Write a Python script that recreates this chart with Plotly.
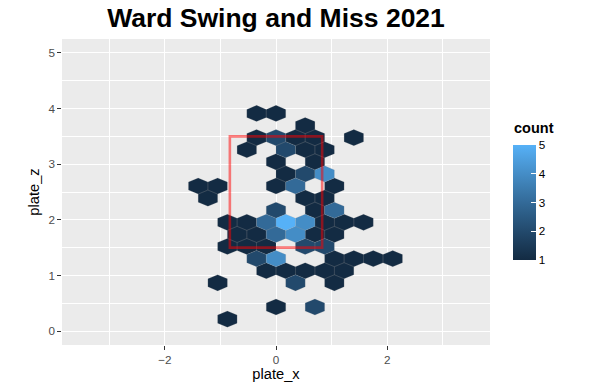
import plotly.graph_objects as go
import numpy as np

# ---- data (hex bin centres) ----
hex_x = [-0.35, 0.0,
         0.525,
         -0.35, 0.0, 0.35, 0.70, 1.40,
         -0.525, 0.175, 0.525, 0.875,
         0.0, 0.70,
         0.175, 0.525, 0.875,
         -1.40, -1.05, 0.0, 0.35, 1.05,
         -1.225, 0.525, 0.875,
         0.0, 0.70, 1.05,
         -0.875, -0.525, -0.175, 0.175, 0.525, 0.875, 1.225, 1.575,
         -0.70, -0.35, 0.0, 0.35, 0.70, 1.05,
         -0.875, -0.525, -0.175, 0.525, 0.875,
         -0.35, 0.0, 1.05, 1.40, 1.75, 2.10,
         -0.175, 0.175, 0.525, 0.875, 1.225,
         -1.05, 0.35, 1.05,
         0.0, 0.70,
         -0.875]
hex_y = [3.9125, 3.9125,
         3.695,
         3.4775, 3.4775, 3.4775, 3.4775, 3.4775,
         3.26, 3.26, 3.26, 3.26,
         3.0425, 3.0425,
         2.825, 2.825, 2.825,
         2.6075, 2.6075, 2.6075, 2.6075, 2.6075,
         2.39, 2.39, 2.39,
         2.1725, 2.1725, 2.1725,
         1.955, 1.955, 1.955, 1.955, 1.955, 1.955, 1.955, 1.955,
         1.7375, 1.7375, 1.7375, 1.7375, 1.7375, 1.7375,
         1.52, 1.52, 1.52, 1.52, 1.52,
         1.3025, 1.3025, 1.3025, 1.3025, 1.3025, 1.3025,
         1.085, 1.085, 1.085, 1.085, 1.085,
         0.8675, 0.8675, 0.8675,
         0.4325, 0.4325,
         0.215]
hex_count = [1, 1,
             1,
             1, 2, 1, 1, 1,
             1, 2, 1, 1,
             1, 1,
             1, 2, 4,
             1, 1, 1, 3, 1,
             1, 1, 1,
             2, 1, 3,
             1, 1, 3, 5, 4, 1, 1, 1,
             1, 1, 3, 4, 1, 1,
             1, 1, 1, 2, 2,
             2, 4, 1, 1, 1, 1,
             1, 1, 1, 1, 1,
             1, 2, 1,
             1, 2,
             1]

zone_x = [-0.83, 0.83]
zone_z = [1.5, 3.5]

x_ticks = [-2, 0, 2]
y_ticks = [0, 1, 2, 3, 4, 5]
count_ticks = [1, 2, 3, 4, 5]

# ---- ggplot-like Lab gradient #132B43 -> #56B1F7 ----
def hex2rgb(h):
    h = h.lstrip('#')
    return [int(h[i:i + 2], 16) / 255 for i in (0, 2, 4)]

def srgb2lin(c):
    return c / 12.92 if c <= 0.04045 else ((c + 0.055) / 1.055) ** 2.4

def lin2srgb(c):
    c = max(0.0, min(1.0, c))
    return 12.92 * c if c <= 0.0031308 else 1.055 * c ** (1 / 2.4) - 0.055

WP = (0.95047, 1.0, 1.08883)

def rgb2lab(rgb):
    r, g, b = [srgb2lin(c) for c in rgb]
    X = 0.4124 * r + 0.3576 * g + 0.1805 * b
    Y = 0.2126 * r + 0.7152 * g + 0.0722 * b
    Z = 0.0193 * r + 0.1192 * g + 0.9505 * b
    def f(t):
        return t ** (1 / 3) if t > (6 / 29) ** 3 else t / (3 * (6 / 29) ** 2) + 4 / 29
    fx, fy, fz = f(X / WP[0]), f(Y / WP[1]), f(Z / WP[2])
    return (116 * fy - 16, 500 * (fx - fy), 200 * (fy - fz))

def lab2rgb(lab):
    L, a, b = lab
    fy = (L + 16) / 116
    fx = fy + a / 500
    fz = fy - b / 200
    def finv(t):
        return t ** 3 if t > 6 / 29 else 3 * (6 / 29) ** 2 * (t - 4 / 29)
    X, Y, Z = WP[0] * finv(fx), WP[1] * finv(fy), WP[2] * finv(fz)
    r = 3.2406 * X - 1.5372 * Y - 0.4986 * Z
    g = -0.9689 * X + 1.8758 * Y + 0.0415 * Z
    bb = 0.0557 * X - 0.2040 * Y + 1.0570 * Z
    return [round(lin2srgb(c) * 255) for c in (r, g, bb)]

LOW, HIGH = rgb2lab(hex2rgb('#132B43')), rgb2lab(hex2rgb('#56B1F7'))

def grad(t):
    lab = [LOW[i] + (HIGH[i] - LOW[i]) * t for i in range(3)]
    r, g, b = lab2rgb(lab)
    return f'rgb({r},{g},{b})'

cmin, cmax = 1, 5
colorscale = [[t, grad(t)] for t in np.linspace(0, 1, 11)]

# ---- hexagon geometry (size of bins, not data) ----
HW = 0.175     # half width
HT = 0.145     # half height (vertex)
HS = 0.0725    # half height of vertical side

fig = go.Figure()

for c in sorted(set(hex_count)):
    xs, ys = [], []
    for x, y, n in zip(hex_x, hex_y, hex_count):
        if n != c:
            continue
        xs += [x, x + HW, x + HW, x, x - HW, x - HW, x, None]
        ys += [y + HT, y + HS, y - HS, y - HT, y - HS, y + HS, y + HT, None]
    col = grad((c - cmin) / (cmax - cmin))
    fig.add_trace(go.Scatter(
        x=xs, y=ys, mode='lines', fill='toself', fillcolor=col,
        line=dict(color='rgba(150,150,150,0.35)', width=0.5),
        hoverinfo='skip', showlegend=False))

# colourbar geometry in pixels
M_L, M_R, M_T, M_B = 62, 101, 39, 43
PW, PH = 591 - M_L - M_R, 388 - M_T - M_B
BAR_X0 = 512.7
BAR_W = 23
BAR_TOP, BAR_BOT = 145, 260

def px2py(py):
    return (388 - M_B - py) / PH

def px2px(px):
    return (px - M_L) / PW

fig.add_trace(go.Scatter(
    x=[None], y=[None], mode='markers', showlegend=False, hoverinfo='skip',
    marker=dict(color=[cmin, cmax], cmin=cmin, cmax=cmax, colorscale=colorscale,
                showscale=True,
                colorbar=dict(
                    x=px2px(BAR_X0), xanchor='left', xpad=0,
                    y=px2py(BAR_BOT), yanchor='bottom', ypad=0,
                    thickness=BAR_W, len=BAR_BOT - BAR_TOP, lenmode='pixels',
                    outlinewidth=0,
                    tickvals=count_ticks, tickprefix='\u2002',
                    ticks='inside', ticklen=4.6, tickcolor='white', tickwidth=1,
                    tickfont=dict(size=11.7, color='black')))))

# legend title
fig.add_annotation(text='<b>count</b>', xref='paper', yref='paper',
                   x=px2px(BAR_X0 - 1), y=px2py(138), xanchor='left', yanchor='bottom',
                   showarrow=False, font=dict(size=14.5, color='black'))

# white tick marks on the left edge of the colour bar (as ggplot draws them)
for v in count_ticks[1:-1]:
    py = BAR_BOT - (v - cmin) / (cmax - cmin) * (BAR_BOT - BAR_TOP)
    fig.add_shape(type='line', xref='paper', yref='paper',
                  x0=px2px(BAR_X0), x1=px2px(BAR_X0 + 4.6),
                  y0=px2py(py), y1=px2py(py), line=dict(color='white', width=1),
                  layer='above')

fig.add_shape(type='rect', x0=zone_x[0], x1=zone_x[1], y0=zone_z[0], y1=zone_z[1],
              line=dict(color='rgba(255,0,0,0.5)', width=2.6), layer='above')

fig.update_layout(
    width=591, height=388,
    margin=dict(l=M_L, r=M_R, t=M_T, b=M_B, autoexpand=False),
    paper_bgcolor='white', plot_bgcolor='#EBEBEB',
    font=dict(family='Liberation Sans, Arial, sans-serif', color='black'),
    title=dict(text='<b>Ward Swing and Miss 2021</b>', x=0.5, xref='paper',
               xanchor='center', y=1 - 18 / 388, yref='container', yanchor='middle',
               font=dict(size=26.5, color='black')),
)
fig.update_xaxes(
    range=[-3.85, 3.85], tickvals=x_ticks, showgrid=True, gridcolor='white', gridwidth=1.1,
    minor=dict(dtick=1, tick0=0, showgrid=True, gridcolor='white', gridwidth=0.55),
    zeroline=False, showline=False, automargin=False,
    ticks='outside', ticklen=3.7, tickcolor='#333333', tickwidth=1.1,
    tickfont=dict(size=11.7, color='#4D4D4D'),
    title=dict(text='plate_x', font=dict(size=14.67, color='black'), standoff=3))
fig.update_yaxes(
    range=[-0.25, 5.25], tickvals=y_ticks, showgrid=True, gridcolor='white', gridwidth=1.1,
    minor=dict(dtick=0.5, tick0=0, showgrid=True, gridcolor='white', gridwidth=0.55),
    zeroline=False, showline=False, automargin=False,
    ticks='outside', ticklen=3.7, tickcolor='#333333', tickwidth=1.1,
    tickfont=dict(size=11.7, color='#4D4D4D'),
    title=dict(text='plate_z', font=dict(size=14.67, color='black'), standoff=5))

fig.write_html('out.html')
